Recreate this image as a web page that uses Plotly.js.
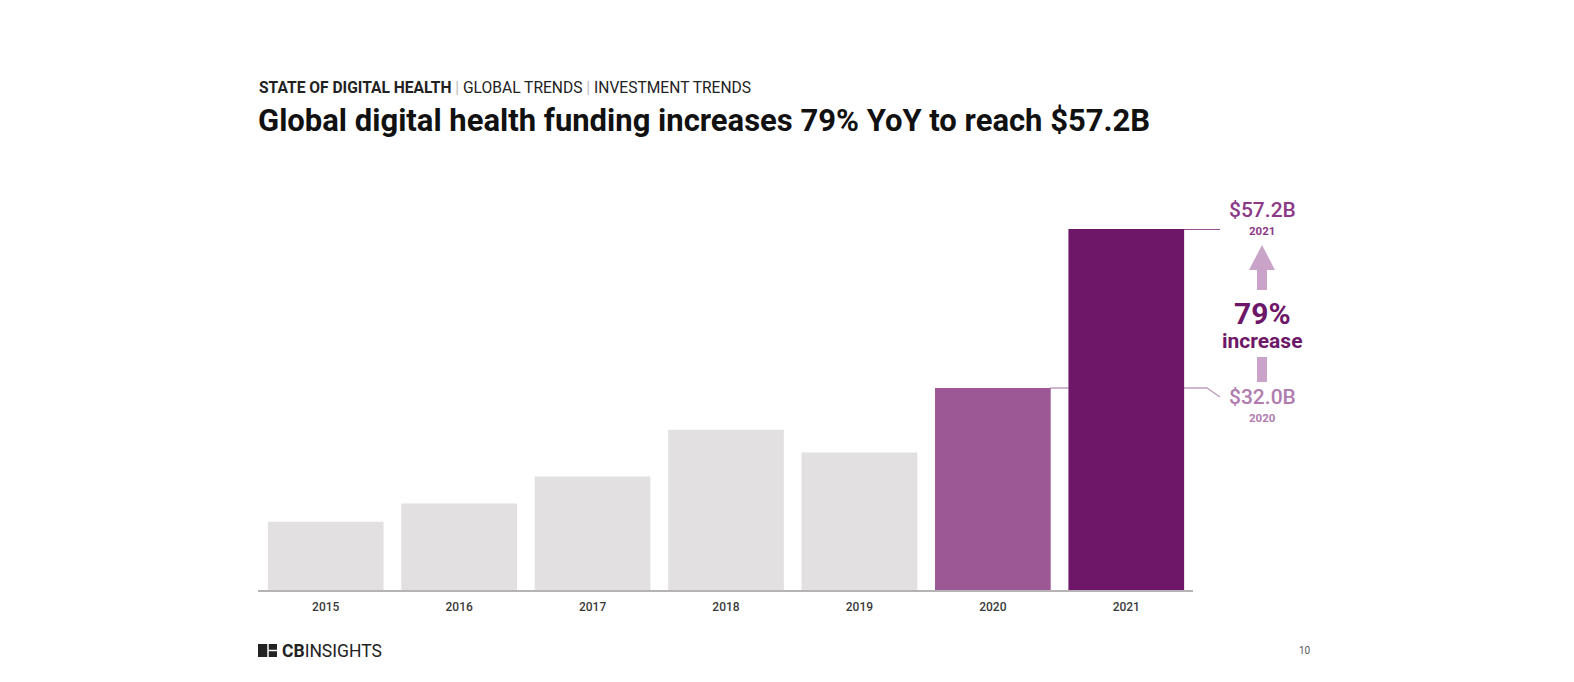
<!DOCTYPE html>
<html><head><meta charset="utf-8">
<script src="https://cdn.plot.ly/plotly-3.0.1.min.js"></script>
<style>html,body{margin:0;padding:0;background:#fff}#chart{width:1574px;height:682px}</style>
</head><body><div id="chart"></div>
<script>
const years = ['2015','2016','2017','2018','2019','2020','2021'];
const funding = [10.8, 13.7, 18.0, 25.4, 21.8, 32.0, 57.2];
const barColors = ['#e2e0e1','#e2e0e1','#e2e0e1','#e2e0e1','#e2e0e1','#9b5894','#6e1768'];
const labelTop = '$57.2B', labelTopYear = '2021';
const labelLow = '$32.0B', labelLowYear = '2020';
const pctText = '79%';

const W = 1574, H = 682;
const L = 259, R = 1193, T = 229, B = 590;
const px = x => (x - L) / (R - L);
const py = y => (B - y) / (B - T);
const F = 'Roboto, Arial, sans-serif';

const trace = {
  type: 'bar', x: years, y: funding,
  marker: {color: barColors, line: {width: 0}},
  hoverinfo: 'skip', cliponaxis: false
};

const shapes = [
  {type:'line', xref:'paper', yref:'paper', x0:px(258), x1:px(1193), y0:py(591), y1:py(591), line:{color:'#b5b3b4', width:2}},
  {type:'line', xref:'paper', yref:'y', x0:px(1182), x1:px(1220), y0:funding[6], y1:funding[6], line:{color:'#6e1768', width:1.5}, layer:'below'},
  {type:'path', xref:'paper', yref:'paper', layer:'below',
   path:`M ${px(1050)} ${py(388)} L ${px(1207)} ${py(388)} L ${px(1220)} ${py(397)}`, line:{color:'#c49fc2', width:1.5}},
  {type:'path', xref:'paper', yref:'paper', path:`M ${px(1249)} ${py(270)} L ${px(1262)} ${py(245)} L ${px(1275)} ${py(270)} Z`, fillcolor:'#c9a3c8', line:{width:0}},
  {type:'rect', xref:'paper', yref:'paper', x0:px(1257), x1:px(1267), y0:py(290), y1:py(269), fillcolor:'#c9a3c8', line:{width:0}},
  {type:'rect', xref:'paper', yref:'paper', x0:px(1257), x1:px(1267), y0:py(382), y1:py(357), fillcolor:'#c9a3c8', line:{width:0}},
  {type:'rect', xref:'paper', yref:'paper', x0:px(258), x1:px(277), y0:py(657), y1:py(644), fillcolor:'#222', line:{width:0}},
  {type:'line', xref:'paper', yref:'paper', x0:px(268), x1:px(277), y0:py(650.5), y1:py(650.5), line:{color:'#fff', width:1.5}},
  {type:'line', xref:'paper', yref:'paper', x0:px(268), x1:px(268), y0:py(644), y1:py(657), line:{color:'#fff', width:1.5}}
];

const ann = (text, x, y, size, color, opts={}) => Object.assign({
  text, xref:'paper', yref:'paper', x:px(x), y:py(y), showarrow:false,
  xanchor:'center', yanchor:'middle', font:{family:F, size, color}
}, opts);

const annotations = [
  ann('<b>STATE OF DIGITAL HEALTH</b> <span style="color:#bbb">|</span> GLOBAL TRENDS <span style="color:#bbb">|</span> INVESTMENT TRENDS', 257, 88, 15.6, '#222', {xanchor:'left'}),
  ann('<b>Global digital health funding increases 79% YoY to reach $57.2B</b>', 256, 121, 31, '#111', {xanchor:'left'}),
  ann(labelTop, 1262, 210, 21, '#8c3a87', {font:{family:F, size:21, color:'#8c3a87', weight:500}}),
  ann('<b>'+labelTopYear+'</b>', 1262, 231, 11.5, '#8c3a87'),
  ann('<b>'+pctText+'</b>', 1262, 313, 30, '#6e1768'),
  ann('<b>increase</b>', 1262, 341, 21, '#6e1768'),
  ann(labelLow, 1262, 397, 21, '#b17cae', {font:{family:F, size:21, color:'#b17cae', weight:500}}),
  ann('<b>'+labelLowYear+'</b>', 1262, 418, 11.5, '#b17cae'),
  ann('<b>CB</b>INSIGHTS', 280, 651, 17.5, '#222', {xanchor:'left'}),
  ann('10', 1305, 650, 10, '#555')
];

const layout = {
  width: W, height: H,
  margin: {l: L, r: W - R, t: T, b: H - B, pad: 0},
  paper_bgcolor: '#fff', plot_bgcolor: '#fff',
  showlegend: false, bargap: 0.133,
  xaxis: {type:'category', range:[-0.5, 6.5], showgrid:false, zeroline:false, showline:false,
          ticks:'', tickfont:{family:F, size:12, color:'#3a3a3a', weight:500}, ticklabelstandoff: 8, fixedrange:true},
  yaxis: {range:[0, 57.2], showgrid:false, zeroline:false, showline:false, showticklabels:false, fixedrange:true},
  shapes, annotations
};

Plotly.newPlot('chart', [trace], layout, {displayModeBar:false, staticPlot:true});
</script></body></html>
